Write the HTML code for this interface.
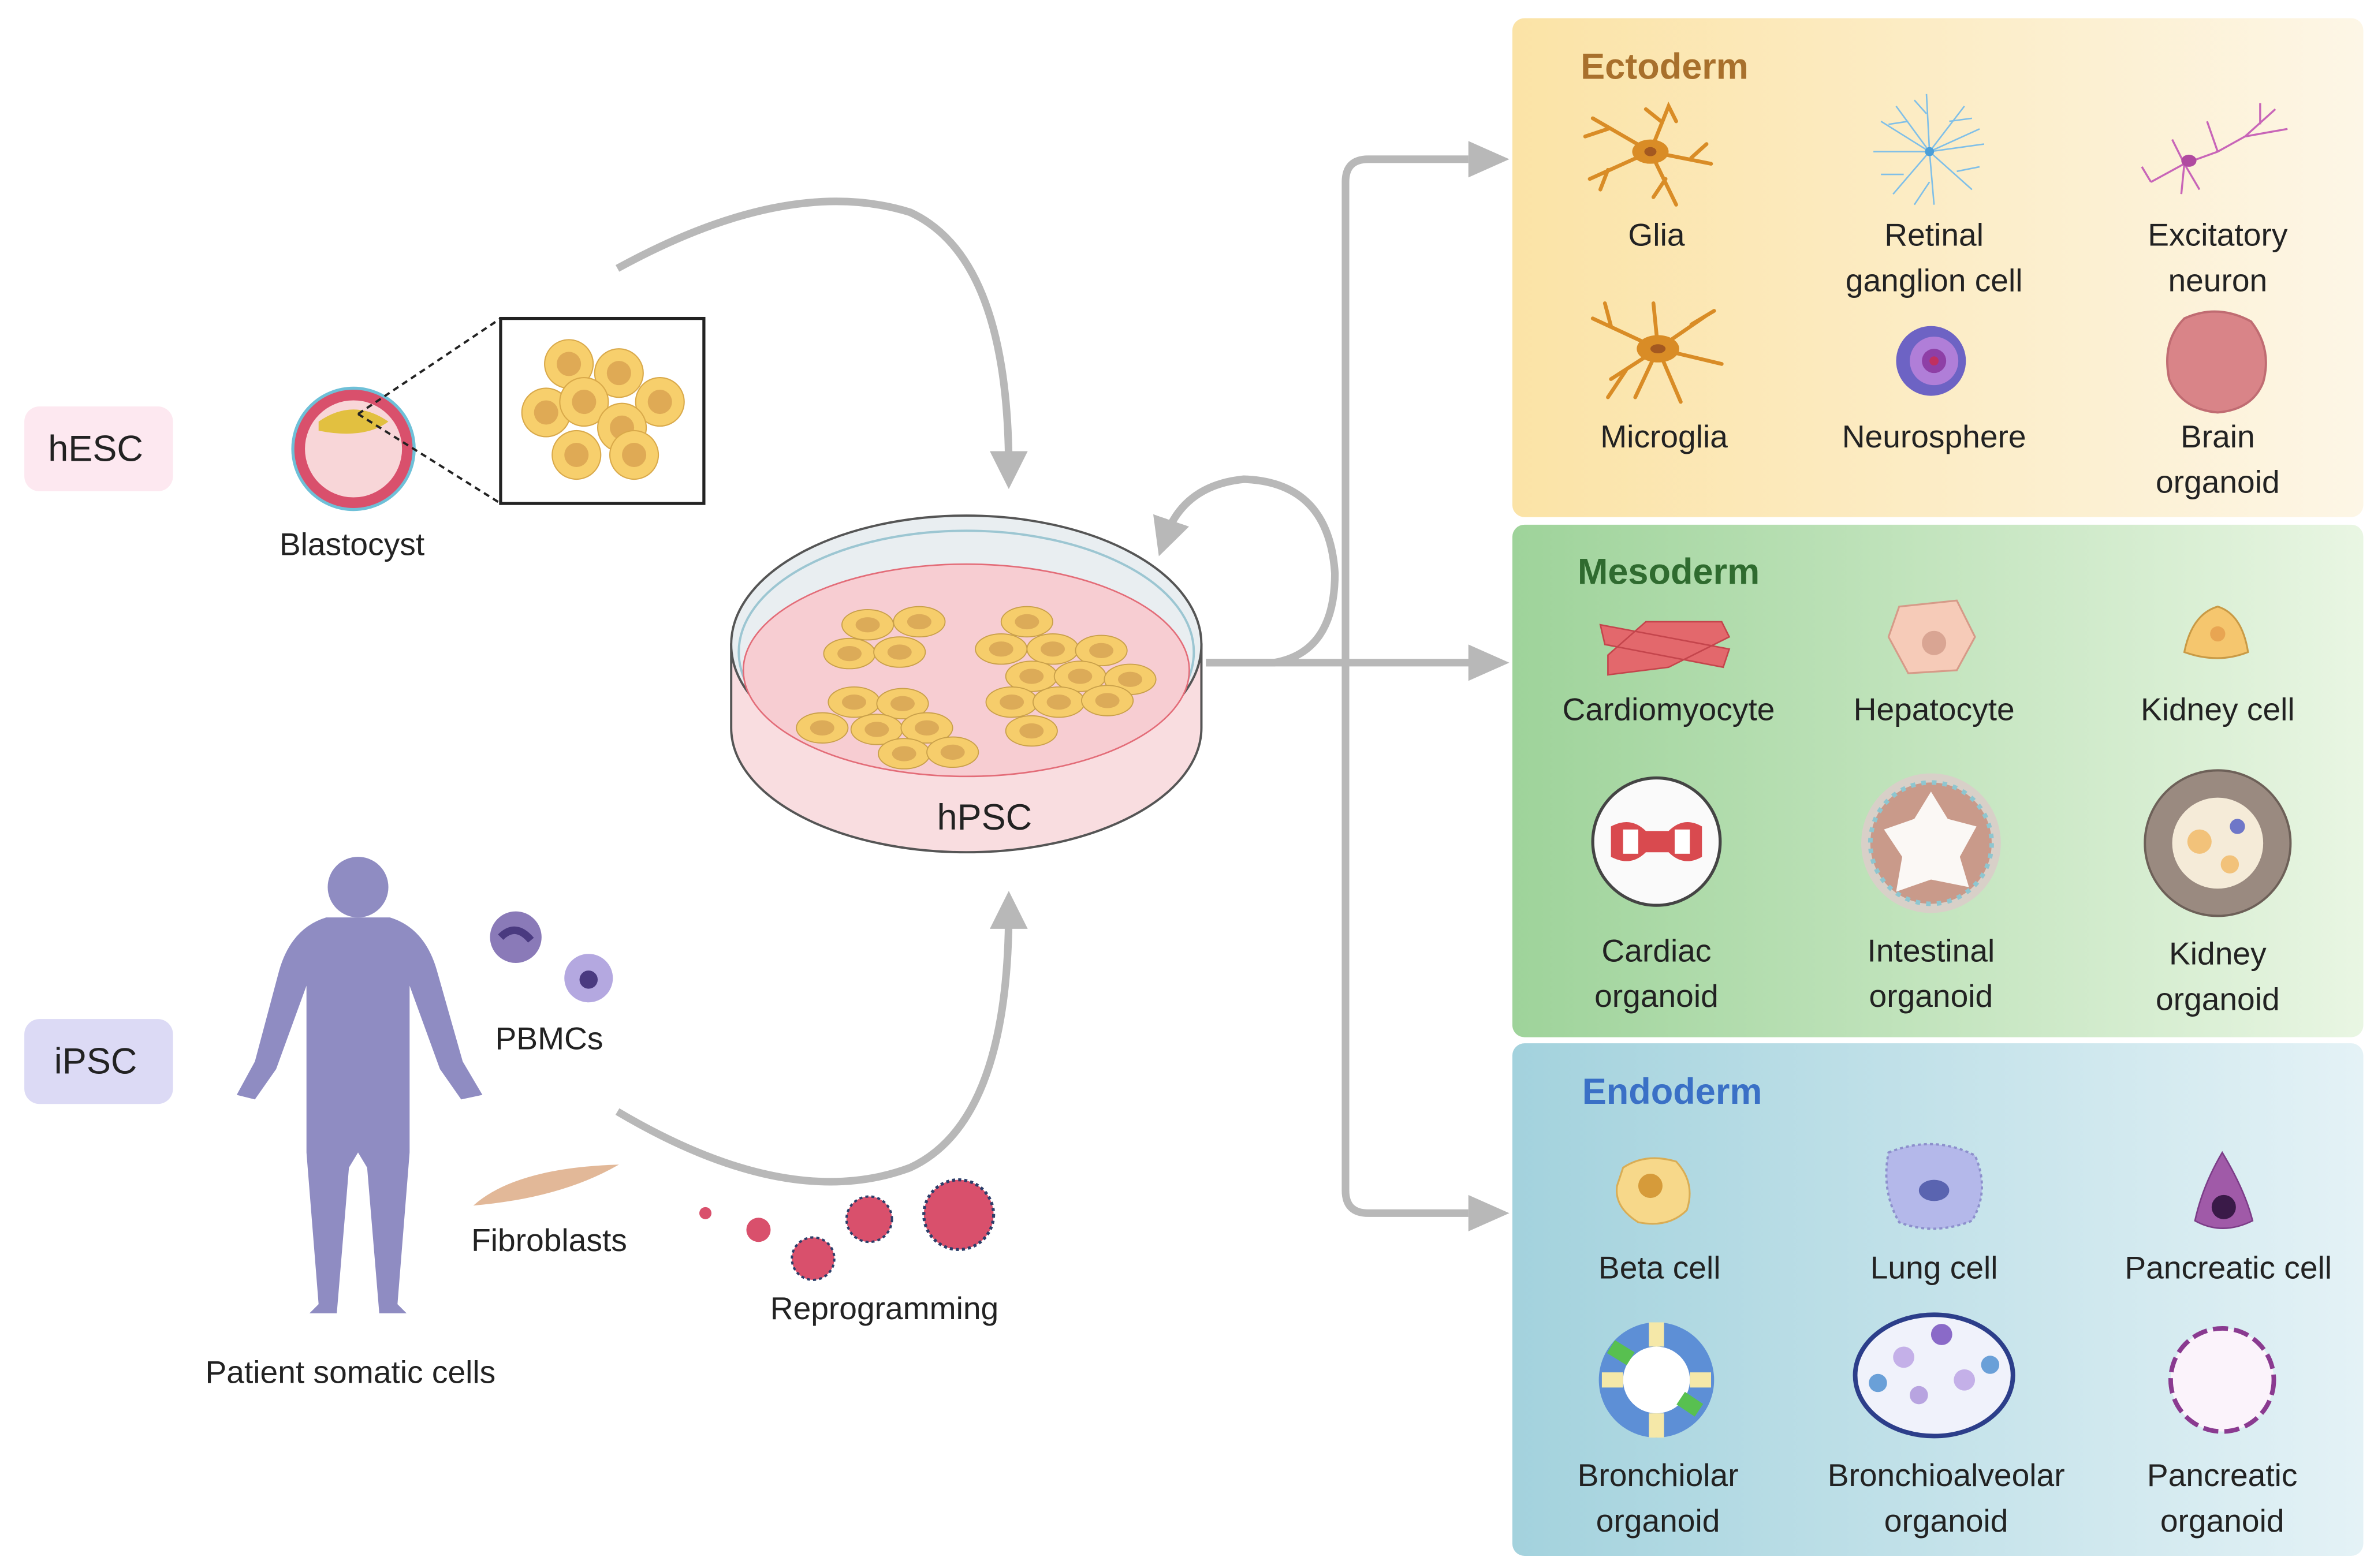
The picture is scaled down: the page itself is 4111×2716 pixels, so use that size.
<!DOCTYPE html>
<html><head><meta charset="utf-8"><style>
html,body{margin:0;padding:0;background:#fff}
svg{display:block}
text{font-family:"Liberation Sans",sans-serif;fill:#222}
</style></head><body>
<svg width="4111" height="2716" viewBox="0 0 1565 1034" xmlns="http://www.w3.org/2000/svg">
<defs>
<linearGradient id="gE" x1="0" x2="1"><stop offset="0" stop-color="#fbe3a6"/><stop offset="1" stop-color="#fdf6e6"/></linearGradient>
<linearGradient id="gM" x1="0" x2="1"><stop offset="0" stop-color="#9ed39a"/><stop offset="1" stop-color="#e9f6e3"/></linearGradient>
<linearGradient id="gN" x1="0" x2="1"><stop offset="0" stop-color="#a3d2dd"/><stop offset="1" stop-color="#e4f2f6"/></linearGradient>
<marker id="ah" markerWidth="5" markerHeight="5" refX="2.5" refY="2.5" orient="auto" markerUnits="strokeWidth"><path d="M0,0 L5,2.5 L0,5 Z" fill="#b8b8b8"/></marker>
<g id="cell"><circle r="16" fill="#f7cf6c" stroke="#d9a94a" stroke-width="0.8"/><circle r="8" fill="#dfaa55"/></g>
<g id="hcell"><ellipse rx="17" ry="10" fill="#f6cd6b" stroke="#c9a04a" stroke-width="0.7"/><ellipse rx="8" ry="5" fill="#dcab58"/></g>
</defs>

<rect x="997" y="12" width="561" height="329" rx="8" fill="url(#gE)"/>
<rect x="997" y="346" width="561" height="338" rx="8" fill="url(#gM)"/>
<rect x="997" y="688" width="561" height="338" rx="8" fill="url(#gN)"/>
<text x="1042" y="52" font-size="24" font-weight="bold" style="fill:#a8702c">Ectoderm</text>
<text x="1040" y="385" font-size="24" font-weight="bold" style="fill:#2f6b2f">Mesoderm</text>
<text x="1043" y="728" font-size="24" font-weight="bold" style="fill:#3a70c6">Endoderm</text>

<g font-size="21" text-anchor="middle">
<text x="1092" y="162">Glia</text>
<text x="1275" y="162">Retinal</text><text x="1275" y="192">ganglion cell</text>
<text x="1462" y="162">Excitatory</text><text x="1462" y="192">neuron</text>
<text x="1097" y="295">Microglia</text>
<text x="1275" y="295">Neurosphere</text>
<text x="1462" y="295">Brain</text><text x="1462" y="325">organoid</text>
<text x="1100" y="475">Cardiomyocyte</text>
<text x="1275" y="475">Hepatocyte</text>
<text x="1462" y="475">Kidney cell</text>
<text x="1092" y="634">Cardiac</text><text x="1092" y="664">organoid</text>
<text x="1273" y="634">Intestinal</text><text x="1273" y="664">organoid</text>
<text x="1462" y="636">Kidney</text><text x="1462" y="666">organoid</text>
<text x="1094" y="843">Beta cell</text>
<text x="1275" y="843">Lung cell</text>
<text x="1469" y="843">Pancreatic cell</text>
<text x="1093" y="980">Bronchiolar</text><text x="1093" y="1010">organoid</text>
<text x="1283" y="980">Bronchioalveolar</text><text x="1283" y="1010">organoid</text>
<text x="1465" y="980">Pancreatic</text><text x="1465" y="1010">organoid</text>
</g>

<g stroke="#d98c26" stroke-width="2.5" fill="none" stroke-linecap="round">
<path d="M1088,100 L1050,78 M1060,85 L1045,90 M1088,100 L1048,118 M1060,112 L1055,125 M1088,100 L1100,70 L1105,80 M1095,80 L1085,72 M1088,100 L1128,108 M1115,104 L1125,95 M1088,100 L1105,135 M1098,118 L1090,130"/>
<path d="M1093,230 L1050,210 M1062,215 L1058,200 M1093,230 L1090,200 M1093,230 L1125,208 M1115,214 L1130,205 M1093,230 L1135,240 M1093,230 L1108,265 M1093,230 L1062,250 M1072,244 L1060,262 M1093,230 L1078,262"/>
</g>
<ellipse cx="1088" cy="100" rx="12" ry="8" fill="#d98c26"/><ellipse cx="1088" cy="100" rx="4" ry="3" fill="#a35820"/>
<ellipse cx="1093" cy="230" rx="14" ry="9" fill="#d98c26"/><ellipse cx="1093" cy="230" rx="5" ry="3" fill="#a35820"/>
<g stroke="#7fbfe8" stroke-width="1" fill="none">
<path d="M1272,100 L1250,70 M1272,100 L1270,62 M1272,100 L1295,70 M1272,100 L1308,95 M1272,100 L1300,125 M1272,100 L1275,135 M1272,100 L1248,128 M1272,100 L1235,100 M1258,80 L1245,82 M1285,80 L1300,78 M1290,113 L1305,110 M1255,115 L1240,115 M1272,120 L1262,135 M1270,75 L1262,66 M1272,100 L1240,80 M1272,100 L1305,85"/>
</g>
<circle cx="1272" cy="100" r="3" fill="#4b9fd8"/>
<g stroke="#c865b8" stroke-width="1.3" fill="none">
<path d="M1418,120 L1440,108 L1462,100 L1480,90 L1500,72 M1480,90 L1508,85 M1490,82 L1490,68 M1462,100 L1455,80 M1440,108 L1432,92 M1440,108 L1438,128 M1418,120 L1412,110 M1440,108 L1450,125"/>
</g>
<ellipse cx="1443" cy="106" rx="5" ry="4" fill="#b04aa0"/>
<circle cx="1273" cy="238" r="23" fill="#6d63c4"/><circle cx="1275" cy="238" r="16" fill="#b07ed8"/><circle cx="1275" cy="238" r="8" fill="#8e3fa6"/><circle cx="1275" cy="238" r="3" fill="#c03060"/>
<path d="M1440,210 Q1462,200 1484,212 Q1498,230 1492,252 Q1485,270 1462,272 Q1438,270 1430,250 Q1425,225 1440,210 Z" fill="#d98488" stroke="#c06c72" stroke-width="1.5"/>

<path d="M1055,412 L1140,428 L1136,440 L1058,425 Z M1060,432 L1085,410 L1135,410 L1140,420 L1100,440 L1060,445 Z" fill="#e3686c" stroke="#c4454c" stroke-width="1"/>
<path d="M1252,400 L1290,396 L1302,420 L1290,442 L1258,444 L1245,420 Z" fill="#f6cbb8" stroke="#d69a88" stroke-width="1.2"/><circle cx="1275" cy="424" r="8" fill="#d9a593"/>
<path d="M1440,430 Q1445,405 1462,400 Q1478,405 1482,430 Q1462,438 1440,430 Z" fill="#f5c66e" stroke="#c99a45" stroke-width="1.2"/><circle cx="1462" cy="418" r="5" fill="#e8a552"/>
<circle cx="1092" cy="555" r="42" fill="#fafafa" stroke="#444" stroke-width="2"/>
<path d="M1062,545 Q1075,538 1085,548 L1100,548 Q1110,538 1122,545 L1122,565 Q1110,572 1100,562 L1085,562 Q1075,572 1062,565 Z" fill="#d94a4f"/><rect x="1070" y="547" width="10" height="16" fill="#fff"/><rect x="1104" y="547" width="10" height="16" fill="#fff"/>
<circle cx="1273" cy="556" r="46" fill="#d8d0c8"/><circle cx="1273" cy="556" r="40" fill="#c99a8a" stroke="#8ec6d0" stroke-width="3" stroke-dasharray="3 4"/>
<path d="M1273,522 L1284,540 L1303,545 L1292,565 L1298,585 L1273,580 L1250,588 L1254,565 L1242,547 L1262,540 Z" fill="#fbf8f5"/>
<circle cx="1462" cy="556" r="48" fill="#9a8a80" stroke="#6d6058" stroke-width="1.5"/><circle cx="1462" cy="556" r="30" fill="#f5ebd8"/>
<circle cx="1450" cy="555" r="8" fill="#f2c27a"/><circle cx="1470" cy="570" r="6" fill="#f2c27a"/><circle cx="1475" cy="545" r="5" fill="#6f77c8"/>

<path d="M1070,770 Q1085,760 1105,766 Q1118,780 1112,798 Q1100,810 1080,806 Q1064,796 1066,782 Z" fill="#f7d88a" stroke="#d9ad55" stroke-width="1.2"/><circle cx="1088" cy="782" r="8" fill="#d69b3a"/>
<path d="M1245,760 Q1275,748 1302,762 Q1312,785 1300,805 Q1275,815 1252,806 Q1240,785 1245,760 Z" fill="#b4b8ea" stroke="#8d90cc" stroke-width="1.5" stroke-dasharray="2 2"/><ellipse cx="1275" cy="785" rx="10" ry="7" fill="#5a64b0"/>
<path d="M1465,760 Q1480,785 1485,805 Q1465,815 1447,805 Q1452,782 1465,760 Z" fill="#a05aa8" stroke="#7c3d88" stroke-width="1"/><circle cx="1466" cy="796" r="8" fill="#3a1a48"/>
<circle cx="1092" cy="910" r="38" fill="#5d8fd6"/><circle cx="1092" cy="910" r="22" fill="#fff"/>
<path d="M1092,872 L1092,888 M1128,910 L1114,910 M1092,948 L1092,932 M1056,910 L1070,910" stroke="#f5e8a8" stroke-width="10"/><path d="M1062,888 L1075,896 M1120,930 L1108,922" stroke="#58c050" stroke-width="10"/>
<ellipse cx="1275" cy="907" rx="52" ry="40" fill="#f0f2fb" stroke="#2c3e8a" stroke-width="3"/>
<circle cx="1255" cy="895" r="7" fill="#c4b0e8"/><circle cx="1280" cy="880" r="7" fill="#8a6ac8"/><circle cx="1295" cy="910" r="7" fill="#c4b0e8"/><circle cx="1265" cy="920" r="6" fill="#b8a4e0"/><circle cx="1238" cy="912" r="6" fill="#6aa0d8"/><circle cx="1312" cy="900" r="6" fill="#6aa0d8"/>
<circle cx="1465" cy="910" r="34" fill="#fbf3fb" stroke="#8a3a90" stroke-width="3" stroke-dasharray="10 4"/>

<g stroke="#b8b8b8" stroke-width="5" fill="none">
<path d="M795,437 L970,437"/>
<path d="M968,105 L902,105 Q887,105 887,120 L887,785 Q887,800 902,800 L968,800" />
<path d="M795,437 L840,437 Q880,430 880,378 Q876,318 820,316 Q780,320 768,355" marker-end="url(#ah)"/>
<path d="M407,177 Q520,115 600,140 Q665,170 665,310" marker-end="url(#ah)"/>
<path d="M407,733 Q520,800 600,770 Q665,740 665,600" marker-end="url(#ah)"/>
</g>
<path d="M968,93 L995,105 L968,117 Z M968,788 L995,800 L968,812 Z M968,425 L995,437 L968,449 Z" fill="#b8b8b8"/>

<path d="M482,425 L482,480 A155,82 0 0 0 792,480 L792,425 Z" fill="#f9dde0" stroke="#555" stroke-width="1.5"/>
<ellipse cx="637" cy="425" rx="155" ry="85" fill="#e9eef1" stroke="#555" stroke-width="1.5"/>
<ellipse cx="637" cy="430" rx="150" ry="80" fill="none" stroke="#9cc6d2" stroke-width="1.5"/>
<ellipse cx="637" cy="442" rx="147" ry="70" fill="#f7cdd2" stroke="#e36c78" stroke-width="1"/>
<g>
<use href="#hcell" x="572" y="412"/><use href="#hcell" x="606" y="410"/><use href="#hcell" x="560" y="431"/><use href="#hcell" x="593" y="430"/>
<use href="#hcell" x="677" y="410"/><use href="#hcell" x="660" y="428"/><use href="#hcell" x="694" y="428"/><use href="#hcell" x="726" y="429"/>
<use href="#hcell" x="680" y="446"/><use href="#hcell" x="712" y="446"/><use href="#hcell" x="745" y="448"/>
<use href="#hcell" x="667" y="463"/><use href="#hcell" x="698" y="463"/><use href="#hcell" x="730" y="462"/><use href="#hcell" x="680" y="482"/>
<use href="#hcell" x="563" y="463"/><use href="#hcell" x="595" y="464"/><use href="#hcell" x="542" y="480"/><use href="#hcell" x="578" y="481"/><use href="#hcell" x="611" y="480"/>
<use href="#hcell" x="596" y="497"/><use href="#hcell" x="628" y="496"/>
</g>
<text x="649" y="547" font-size="24" text-anchor="middle">hPSC</text>

<rect x="16" y="268" width="98" height="56" rx="10" fill="#fde8f0"/>
<text x="63" y="304" font-size="24" text-anchor="middle">hESC</text>
<rect x="16" y="672" width="98" height="56" rx="10" fill="#dcdaf5"/>
<text x="63" y="708" font-size="24" text-anchor="middle">iPSC</text>
<circle cx="233" cy="296" r="40" fill="#d9506c" stroke="#6ec0d8" stroke-width="2"/>
<circle cx="233" cy="296" r="32" fill="#f8d6d8"/>
<path d="M210,278 Q233,262 256,278 Q240,290 210,284 Z" fill="#e2c040"/>
<line x1="236" y1="273" x2="330" y2="210" stroke="#222" stroke-dasharray="4 3" stroke-width="1.5"/>
<line x1="236" y1="273" x2="330" y2="332" stroke="#222" stroke-dasharray="4 3" stroke-width="1.5"/>
<rect x="330" y="210" width="134" height="122" fill="#fff" stroke="#222" stroke-width="2"/>
<use href="#cell" x="375" y="240"/><use href="#cell" x="408" y="246"/><use href="#cell" x="360" y="272"/><use href="#cell" x="435" y="265"/><use href="#cell" x="385" y="265"/><use href="#cell" x="410" y="282"/><use href="#cell" x="380" y="300"/><use href="#cell" x="418" y="300"/>
<text x="232" y="366" font-size="21" text-anchor="middle">Blastocyst</text>

<g fill="#8f8cc2">
<circle cx="236" cy="585" r="20"/>
<path d="M215,605 L257,605 Q280,612 288,640 L305,700 L318,722 L304,725 L290,705 L270,650 L270,760 L262,860 L268,866 L250,866 L242,770 L236,760 L230,770 L222,866 L204,866 L210,860 L202,760 L202,650 L182,705 L168,725 L156,722 L168,700 L184,640 Q192,612 215,605 Z"/>
</g>
<text x="231" y="912" font-size="21" text-anchor="middle">Patient somatic cells</text>
<circle cx="340" cy="618" r="17" fill="#8a7ab8"/><path d="M330,618 Q340,608 350,620" stroke="#4a3a80" stroke-width="5" fill="none"/>
<circle cx="388" cy="645" r="16" fill="#b4a8e0"/><circle cx="388" cy="646" r="6" fill="#4a3a80"/>
<text x="362" y="692" font-size="21" text-anchor="middle">PBMCs</text>
<path d="M312,795 Q340,770 408,768 Q370,790 312,795 Z" fill="#e2b898"/>
<text x="362" y="825" font-size="21" text-anchor="middle">Fibroblasts</text>
<circle cx="465" cy="800" r="4" fill="#d9506c"/>
<circle cx="500" cy="811" r="8" fill="#d9506c"/>
<circle cx="536" cy="830" r="14" fill="#d9506c" stroke="#2c3e6a" stroke-width="1.5" stroke-dasharray="2 2"/>
<circle cx="573" cy="804" r="15" fill="#d9506c" stroke="#2c3e6a" stroke-width="1.5" stroke-dasharray="2 2"/>
<circle cx="632" cy="801" r="23" fill="#d9506c" stroke="#2c3e6a" stroke-width="2" stroke-dasharray="2 2"/>
<text x="583" y="870" font-size="21" text-anchor="middle">Reprogramming</text>
</svg>
</body></html>
